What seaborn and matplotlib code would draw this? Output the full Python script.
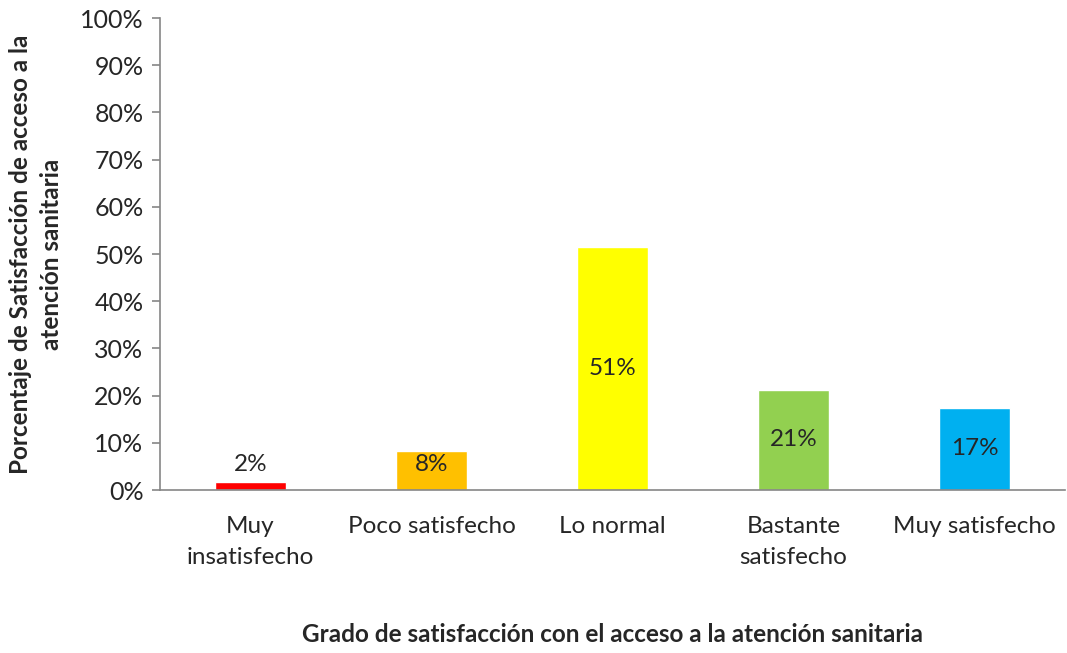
import matplotlib
matplotlib.use("Agg")
import matplotlib.pyplot as plt
import seaborn as sns
import pandas as pd
from matplotlib.ticker import FixedLocator, PercentFormatter

categories = ["Muy\ninsatisfecho", "Poco satisfecho", "Lo normal", "Bastante\nsatisfecho", "Muy satisfecho"]
values = [1.6, 8.3, 51.5, 21.2, 17.4]
labels = ["2%", "8%", "51%", "21%", "17%"]
colors = ["#FF0000", "#FFC000", "#FFFF00", "#92D050", "#00B0F0"]

sns.set_style("white")
plt.rcParams["font.family"] = ["Lato", "DejaVu Sans"]

df = pd.DataFrame({"cat": categories, "val": values})

fig = plt.figure(figsize=(10.67, 6.53), dpi=100)
ax = fig.add_axes([0.15, 0.2496, 0.848, 0.7228])

sns.barplot(data=df, x="cat", y="val", hue="cat", palette=colors,
            width=0.39, legend=False, ax=ax, saturation=1)

ax.set_ylim(0, 100)
ax.set_xlim(-0.5, len(categories) - 0.5)
ax.set_yticks(range(0, 101, 10))
ax.yaxis.set_major_formatter(PercentFormatter(decimals=0))

# category boundaries as tick marks on the x axis
ax.xaxis.set_minor_locator(FixedLocator([i - 0.5 for i in range(len(categories) + 1)]))
ax.tick_params(axis="x", which="major", length=0, labelsize=17.5, pad=19)
ax.tick_params(axis="x", which="minor", length=7, color="#868686", width=1.2)
ax.tick_params(axis="y", which="major", length=6, color="#868686", width=1.2,
               labelsize=18, direction="out", left=True, pad=6)
for t in ax.get_xticklabels():
    t.set_linespacing(1.55)

for s in ["top", "right"]:
    ax.spines[s].set_visible(False)
for s in ["left", "bottom"]:
    ax.spines[s].set_color("#868686")
    ax.spines[s].set_linewidth(1.2)

for i, (v, lab) in enumerate(zip(values, labels)):
    ax.text(i, max(v / 2, 5.3), lab, ha="center", va="center", fontsize=17.5)

ax.set_xlabel("Grado de satisfacción con el acceso a la atención sanitaria",
              fontsize=17.5, fontweight="bold", labelpad=40)
ax.set_ylabel("Porcentaje de Satisfacción de acceso a la\natención sanitaria",
              fontsize=17.5, fontweight="bold", labelpad=12, linespacing=1.4)

fig.savefig("out.png", dpi=100)
